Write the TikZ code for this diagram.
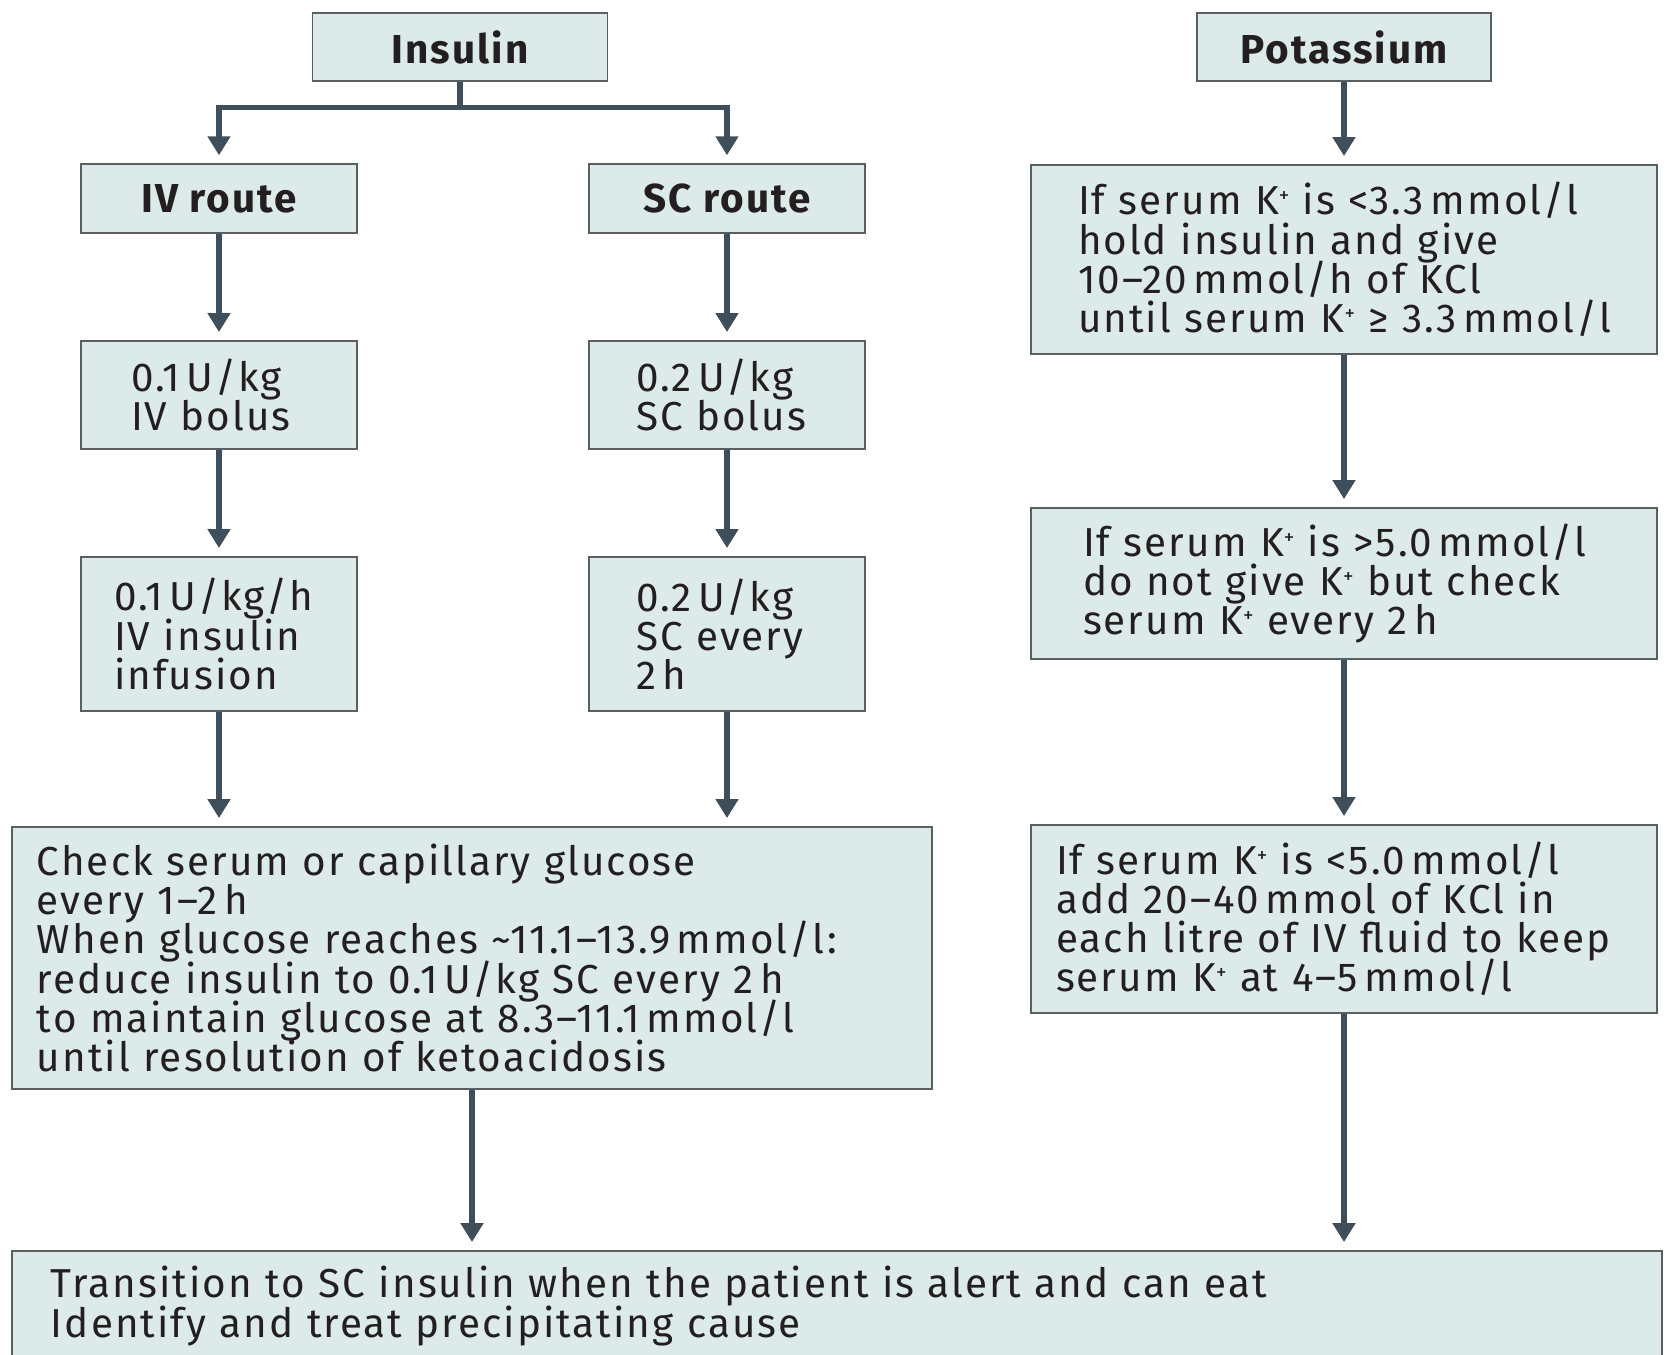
\documentclass[tikz,border=0pt]{standalone}
\usepackage{fontspec}
\setmainfont[LetterSpace=5]{Fira Sans}
\usetikzlibrary{arrows.meta}

\definecolor{boxfill}{HTML}{DCEBE9}
\definecolor{boxline}{HTML}{5A5F61}
\definecolor{arrowcol}{HTML}{3E4F5B}
\definecolor{textcol}{HTML}{231F20}
\newcommand{\Kp}{K\raisebox{0.3em}{\fontsize{12}{12}\selectfont +}}

\begin{document}
\begin{tikzpicture}[>={Triangle[width=0.44cm,length=0.38cm]},
  box/.style={draw=boxline, fill=boxfill, line width=1.1pt, inner sep=0pt,
    text=textcol, font=\fontsize{23}{22.3}\selectfont},
  head/.style={box, font=\fontsize{23}{22.3}\selectfont\bfseries,
    minimum height=1.37cm, align=center},
  pad/.style={execute at begin node={\parindent=0pt\lineskiplimit=-50pt\leftskip=#1\relax}},
  arr/.style={->, draw=arrowcol, line width=3.4pt, shorten >=0.16cm},
]
\useasboundingbox (0,0) rectangle (33.42,-27.10);

% headings
\node[head, minimum width=5.9cm] (ins) at (9.2,-0.94) {Insulin};
\node[head, minimum width=5.88cm] (pot) at (26.88,-0.94) {Potassium};
\node[head, minimum width=5.52cm] (iv) at (4.38,-3.97) {IV route};
\node[head, minimum width=5.52cm] (sc) at (14.54,-3.97) {SC route};

% IV column
\node[box, text width=5.52cm, minimum height=2.16cm, pad=1cm] (ivbol) at (4.38,-7.9)
  {0.1\,U/kg\\IV bolus};
\node[box, text width=5.52cm, minimum height=3.08cm, pad=0.66cm] (ivinf) at (4.38,-12.68)
  {0.1\,U/kg/h\\IV insulin\\infusion};

% SC column
\node[box, text width=5.52cm, minimum height=2.16cm, pad=0.94cm] (scbol) at (14.54,-7.9)
  {0.2\,U/kg\\SC bolus};
\node[box, text width=5.52cm, minimum height=3.08cm, pad=0.94cm] (scinf) at (14.54,-12.68)
  {0.2\,U/kg\\SC every\\2\,h};

% glucose check
\node[box, text width=18.4cm, minimum height=5.24cm, pad=0.5cm] (chk) at (9.44,-19.16)
  {Check serum or capillary glucose\\
   every 1--2\,h\\
   When glucose reaches \textasciitilde11.1--13.9\,mmol/l:\\
   reduce insulin to 0.1\,U/kg SC every 2\,h\\
   to maintain glucose at 8.3--11.1\,mmol/l\\
   until resolution of ketoacidosis};

% potassium column
\node[box, text width=12.52cm, minimum height=3.78cm, pad=0.94cm] (k1) at (26.88,-5.19)
  {If serum \Kp{} is <3.3\,mmol/l\\
   hold insulin and give\\
   10--20\,mmol/h of KCl\\
   until serum \Kp{} ≥ 3.3\,mmol/l};
\node[box, text width=12.52cm, minimum height=3.02cm, pad=1.04cm] (k2) at (26.88,-11.67)
  {If serum \Kp{} is >5.0\,mmol/l\\
   do not give \Kp{} but check\\
   serum \Kp{} every 2\,h};
\node[box, text width=12.52cm, minimum height=3.76cm, pad=0.5cm] (k3) at (26.88,-18.38)
  {If serum \Kp{} is <5.0\,mmol/l\\
   add 20--40\,mmol of KCl in\\
   each litre of IV fluid to keep\\
   serum \Kp{} at 4--5\,mmol/l};

% last step
\node[box, text width=33cm, minimum height=2.2cm, pad=0.78cm] (tr) at (16.74,-26.12)
  {Transition to SC insulin when the patient is alert and can eat\\
   Identify and treat precipitating cause};

% insulin branches
\coordinate (split) at (9.2,-2.15);
\draw[arr] (ins) -- (split) -| (iv);
\draw[arr] (split) -| (sc);

\draw[arr] (iv) -- (ivbol);
\draw[arr] (ivbol) -- (ivinf);
\draw[arr] (ivinf) -- (ivinf |- chk.north);

\draw[arr] (sc) -- (scbol);
\draw[arr] (scbol) -- (scinf);
\draw[arr] (scinf) -- (scinf |- chk.north);

\draw[arr] (chk) -- (chk |- tr.north);

% potassium arrows
\draw[arr] (pot) -- (k1);
\draw[arr] (k1) -- (k2);
\draw[arr] (k2) -- (k3);
\draw[arr] (k3) -- (k3 |- tr.north);

\end{tikzpicture}
\end{document}
